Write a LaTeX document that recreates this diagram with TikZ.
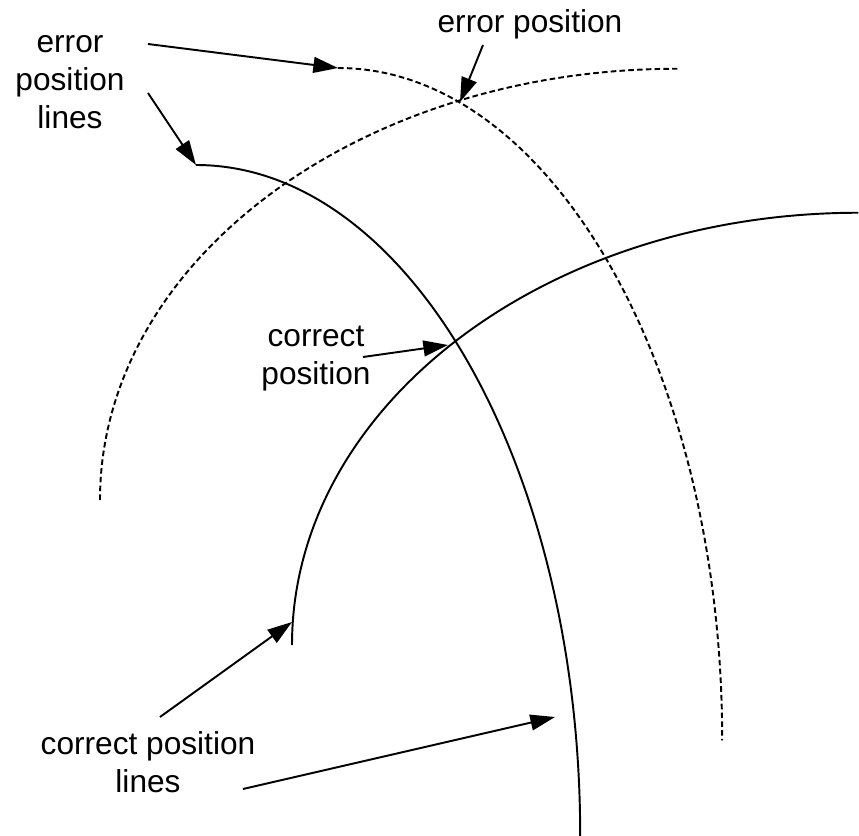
\documentclass[tikz,border=0pt]{standalone}
\usepackage{fontspec}
\setmainfont{Liberation Sans}
\usetikzlibrary{arrows.meta}
\begin{document}
\begin{tikzpicture}[x=0.01cm,y=-0.01cm,
  curve/.style={line width=0.55pt},
  dashcurve/.style={line width=0.55pt, dash pattern=on 1.6pt off 0.9pt},
  pointer/.style={line width=0.55pt, -{Triangle[length=7pt,width=4.5pt]}},
  lbl/.style={font=\fontsize{9}{10.8}\selectfont, align=center, inner sep=0pt}]
\useasboundingbox (0,0) rectangle (859,836);
% position lines
\coordinate (d1s) at (338,68);
\coordinate (s1s) at (196,165);
\coordinate (d2s) at (100,500);
\coordinate (s2s) at (292,645);
\draw[dashcurve] (d1s) arc[start angle=90, end angle=0, x radius=3.84cm, y radius=6.72cm];
\draw[curve] (s1s) arc[start angle=90, end angle=0, x radius=3.84cm, y radius=6.71cm];
\draw[dashcurve] (d2s) arc[start angle=180, end angle=90, x radius=5.77cm, y radius=4.31cm];
\draw[curve] (s2s) arc[start angle=180, end angle=90, x radius=5.66cm, y radius=4.32cm];
% labels
\node[lbl] (epl) at (70,82) {error\\position\\lines};
\node[lbl, anchor=base] (ep) at (530,32) {error position};
\node[lbl] (cp) at (316,359) {correct\\position};
\node[lbl] (cpl) at (148,762) {correct position\\lines};
% arrow ends
\coordinate (t1) at (148,44);
\coordinate (t2) at (148,93);
\coordinate (t3) at (483,45);
\coordinate (x3) at (460,102);
\coordinate (t4) at (363,357);
\coordinate (x4) at (448,345);
\coordinate (t5) at (160,717);
\coordinate (x5) at (292,622);
\coordinate (t6) at (243,789);
\coordinate (x6) at (555,717);
\draw[pointer] (t1) -- (d1s);
\draw[pointer] (t2) -- (s1s);
\draw[pointer] (t3) -- (x3);
\draw[pointer] (t4) -- (x4);
\draw[pointer] (t5) -- (x5);
\draw[pointer] (t6) -- (x6);
\end{tikzpicture}
\end{document}
